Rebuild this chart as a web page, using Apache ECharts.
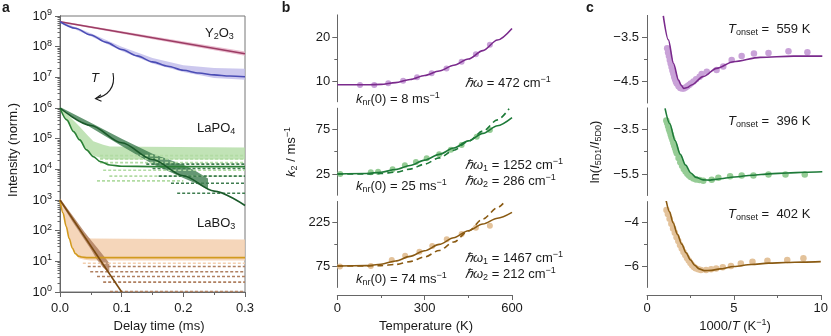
<!DOCTYPE html>
<html><head><meta charset="utf-8">
<script src="https://cdn.jsdelivr.net/npm/echarts@6/dist/echarts.min.js"></script>
<style>html,body{margin:0;padding:0;background:#fff}#c{width:831px;height:336px}</style>
</head><body><div id="c"></div>
<script>
// ---------------- Panel a: decay curves (delay time ms, normalized intensity) ----------------
const y2o3RtFit  = [[0,6.5e8],[0.15,1.95e8],[0.3,5.9e7]];
const y2o3RtBand = [[0,6.1e8,6.9e8],[0.15,1.75e8,2.2e8],[0.3,5.1e7,6.9e7]];
const y2o3HtFit  = [[0,6.5e8],[0.025,4.0e8],[0.05,2.4e8],[0.075,1.38e8],[0.1,8.1e7],[0.125,5.0e7],[0.15,3.2e7],[0.175,2.3e7],[0.2,1.7e7],[0.225,1.38e7],[0.25,1.2e7],[0.275,1.1e7],[0.3,1.05e7]];
const y2o3HtBand = [[0,6.0e8,6.9e8],[0.05,2.2e8,2.75e8],[0.1,7.2e7,1.0e8],[0.15,2.8e7,4.3e7],[0.2,1.5e7,2.5e7],[0.25,9.5e6,2.0e7],[0.3,8.3e6,1.9e7]];

const lapoRtFit  = [[0,1.0e6],[0.05,2.7e5],[0.1,7.4e4],[0.15,2.1e4],[0.2,6.2e3],[0.25,1.95e3],[0.3,6.6e2]];
const lapoRtBand = [[0,9.3e5,1.07e6],[0.05,2.3e5,3.3e5],[0.1,5.8e4,1.0e5],[0.15,1.5e4,3.2e4],[0.2,5.2e3,1.4e4],[0.22,3.5e3,8.9e3],[0.24,2.2e3,5.0e3]];
const lapoHtFit  = [[0,1.0e6],[0.011,4.1e5],[0.022,1.7e5],[0.032,9.1e4],[0.043,4.3e4],[0.054,2.6e4],[0.065,1.8e4],[0.081,1.38e4],[0.1,1.26e4],[0.15,1.23e4],[0.3,1.23e4]];
const lapoHtBand = [[0,9.3e5,1.07e6],[0.016,2.5e5,5.2e5],[0.032,8.9e4,2.45e5],[0.045,4.0e4,1.26e5],[0.054,2.8e4,8.3e4],[0.07,2.2e4,6.3e4],[0.081,2.1e4,5.6e4],[0.3,2.1e4,5.2e4]];
const lapoHtLevels = [[0.065,0.3,2.8e4],[0.065,0.3,2.2e4],[0.065,0.3,1.66e4],[0.07,0.3,9.3e3],[0.08,0.3,6.0e3],[0.06,0.2,4.2e3]];
const lapoRtLevels = [[0.14,0.3,1.48e4],[0.15,0.3,1.07e4],[0.16,0.3,6.0e3],[0.18,0.3,3.5e3],[0.19,0.3,1.66e3]];

const laboRtFit  = [[0,1000],[0.1,1]];
const laboRtBand = [[0,890,1120],[0.02,200,316],[0.04,50,89],[0.05,25,50],[0.06,11.2,28],[0.07,6.3,15.8],[0.08,4.0,8.9]];
const laboHtFit  = [[0,1000],[0.005,372],[0.01,138],[0.015,55],[0.02,27],[0.025,17.8],[0.03,14.8],[0.035,13.8],[0.045,13.2],[0.3,13.2]];
const laboHtBand = [[0,890,1120],[0.01,141,500],[0.02,28,224],[0.03,12.6,100],[0.04,11.2,63],[0.05,10.7,56],[0.3,10.7,52]];
const laboHtLevels = [[0.037,0.3,8.7]];
const laboRtLevels = [[0.045,0.3,6.8],[0.049,0.3,4.6],[0.06,0.3,3.2],[0.07,0.3,2.1],[0.081,0.3,1.04]];

const aYTicks = [1,1e1,1e2,1e3,1e4,1e5,1e6,1e7,1e8,1e9];
const aYMinor = [2,3,4,5,6,7,8,9];

// ---------------- Panel b: k2 vs temperature ----------------
const bTempY = [78,127,175,226,274,324,375,427,476,524];
const bK2Y   = [9.26,9.26,9.64,10.2,11.0,11.9,13.0,14.5,16.2,18.3];
const bFitY  = [[0,9.3],[50,9.3],[100,9.3],[150,9.4],[200,9.8],[250,10.5],[300,11.4],[350,12.4],[400,13.7],[450,15.1],[500,17.0],[550,19.4],[600,22.0]];
const bTempP = [10,115,140,190,232,270,307,350,390,427,479,524];
const bK2P   = [25,27,27.5,30.3,34.7,38.5,42.6,47,52,57.4,66.7,74.2];
const bFitP  = [[0,25],[100,25.5],[150,27],[200,30],[250,34.5],[300,40.5],[350,47],[400,54],[450,62],[500,70.5],[550,79],[600,88]];
const bFitP2 = [[0,25],[100,25],[150,25.5],[200,27],[250,30.5],[300,36],[350,43],[400,51.5],[450,61.5],[500,73],[550,85.5],[590,98]];
const bTempB = [9,115,187,233,282,326,376,427,476,524];
const bK2B   = [73,75,95.6,110.4,124,143.7,166.6,184.9,206.5,213.3];
const bFitB  = [[0,75],[100,76],[150,81],[200,92],[250,108],[300,127],[350,149],[400,172],[450,196],[500,219],[550,239],[600,259]];
const bFitB2 = [[0,75],[100,75],[150,76],[200,80],[250,90],[300,106],[350,128],[400,157],[450,195],[500,236],[550,275],[570,290]];

// ---------------- Panel c: ln(I5D1/I5D0) vs 1000/T ----------------
const cPtsY = [[1.15,-3.75],[1.2,-3.85],[1.25,-3.93],[1.3,-4.02],[1.35,-4.1],[1.4,-4.18],[1.45,-4.26],[1.5,-4.33],[1.55,-4.4],[1.6,-4.46],[1.65,-4.52],[1.7,-4.56],[1.8,-4.62],[1.9,-4.66],[2.0,-4.67],[2.1,-4.67],[2.2,-4.65],[2.3,-4.62],[2.4,-4.59],[2.5,-4.56],[2.65,-4.51],[2.8,-4.46],[3.0,-4.4],[3.12,-4.34],[3.41,-4.29],[3.97,-4.25],[4.35,-4.17],[4.83,-4.02],[5.4,-3.93],[6.1,-3.87],[6.93,-3.86],[8.07,-3.82],[9.15,-3.84]];
const cFitY = [[0.93,-3.01],[1.22,-3.56],[1.51,-4.10],[1.8,-4.48],[1.95,-4.6],[2.1,-4.67],[2.3,-4.65],[2.54,-4.59],[3.2,-4.40],[3.97,-4.21],[4.93,-4.06],[6.45,-3.96],[8.35,-3.93],[10,-3.93]];
const cPtsP = [[1.1,-3.1],[1.15,-3.22],[1.2,-3.35],[1.25,-3.48],[1.3,-3.6],[1.35,-3.73],[1.4,-3.85],[1.45,-3.97],[1.5,-4.1],[1.55,-4.22],[1.6,-4.34],[1.65,-4.46],[1.7,-4.57],[1.8,-4.78],[1.9,-4.97],[2.0,-5.13],[2.1,-5.27],[2.2,-5.39],[2.3,-5.49],[2.4,-5.57],[2.5,-5.63],[2.65,-5.7],[2.8,-5.74],[3.0,-5.77],[3.21,-5.8],[3.69,-5.76],[4.07,-5.66],[4.74,-5.6],[5.4,-5.57],[6.07,-5.57],[6.93,-5.52],[7.9,-5.52],[9.0,-5.52]];
const cFitP = [[1.03,-2.56],[1.3,-3.25],[1.6,-4.0],[1.9,-4.62],[2.2,-5.1],[2.5,-5.45],[2.8,-5.65],[3.2,-5.76],[3.6,-5.77],[4.0,-5.73],[5.0,-5.63],[6.0,-5.55],[7.0,-5.49],[8.0,-5.45],[9.0,-5.42],[10,-5.40]];
const cPtsB = [[1.12,-3.44],[1.2,-3.62],[1.3,-3.84],[1.4,-4.06],[1.5,-4.28],[1.6,-4.48],[1.7,-4.68],[1.8,-4.86],[1.9,-5.04],[2.0,-5.2],[2.1,-5.36],[2.2,-5.5],[2.3,-5.63],[2.4,-5.75],[2.5,-5.86],[2.6,-5.96],[2.7,-6.04],[2.8,-6.1],[2.95,-6.15],[3.1,-6.18],[3.4,-6.18],[3.69,-6.15],[3.98,-6.11],[4.36,-6.06],[4.83,-6.0],[5.4,-5.88],[6.07,-5.8],[6.93,-5.76],[8.07,-5.73],[9.0,-5.65]];
const cFitB = [[1.1,-3.0],[1.3,-3.52],[1.5,-4.02],[1.75,-4.55],[2.0,-5.0],[2.25,-5.4],[2.5,-5.72],[2.75,-5.97],[3.0,-6.13],[3.3,-6.21],[3.7,-6.2],[4.2,-6.13],[5.0,-6.02],[6.0,-5.93],[7.0,-5.87],[8.0,-5.84],[9.0,-5.82],[10,-5.80]];

// tick values of the stacked sub-axes
const bMajor = [[10,20],[25,75],[75,225]];
const bMinor = [[15],[50],[150]];
const cMajor = [[-3.5,-4.5],[-3.5,-5.5],[-4,-6]];
const cMinor = [[-4],[-4.5],[-5]];

// ---------------- styling / layout ----------------
const FF = '"Liberation Sans", Arial, Helvetica, sans-serif';
const AX = '#666';
const TXT = '#1a1a1a';
const C = {
  maroon:'#9c3c64', pink:'#e6b3c8', blue:'#4b4db5', lav:'#bfbaea',
  dkg:'#1a5a2a', dkgS:'#3f7d50', ltg:'#2a8035', ltgS:'#b2dca4',
  brn:'#7b4a10', brnS:'#b08060', gold:'#d29a1e', peach:'#f3cfae',
  purple:'#7a2a8c', purpleP:'#c9a2d8', green:'#1d7a38', greenP:'#95cc95', brown:'#8a5a12', brownP:'#e3c29a'
};
const rows = [[15.1,86.6],[108.3,86.7],[201.6,85.6]];
const bRange = [[5.5,25],[1.5,98.5],[2,296]];
const cRows = [[15.45,87.4],[108.1,87.2],[201.8,85.4]];
const cRange = [[-5,-3],[-6.45,-2.55],[-6.97,-3.06]];

const minus = v => String(v).replace('-', '\u2212');
const lbl = {fontSize:13, color:TXT, fontFamily:FF};

const grid = [{left:60, top:16, width:185, height:276, show:true, borderColor:'#777', borderWidth:1, backgroundColor:'transparent', containLabel:false}];
rows.forEach(r => grid.push({left:337.3, top:r[0], width:174.7, height:r[1], containLabel:false}));
cRows.forEach(r => grid.push({left:647, top:r[0], width:175.3, height:r[1], containLabel:false}));

const xAxis = [{
  type:'value', gridIndex:0, min:0, max:0.3, interval:0.1, position:'bottom',
  axisLine:{show:true, lineStyle:{color:AX, width:1}},
  axisTick:{show:true, length:5, lineStyle:{color:AX}},
  minorTick:{show:true, splitNumber:2, length:3, lineStyle:{color:AX}},
  axisLabel:Object.assign({margin:10, formatter:v => v.toFixed(1)}, lbl),
  splitLine:{show:false}, minorSplitLine:{show:false}
}];
function xSub(gi, max, interval, shown) {
  if (!shown) return {type:'value', gridIndex:gi, min:0, max, show:false, splitLine:{show:false}};
  return {type:'value', gridIndex:gi, min:0, max, interval, offset:7.8, position:'bottom',
    axisLine:{show:true, lineStyle:{color:AX, width:1}},
    axisTick:{show:true, length:5, lineStyle:{color:AX}},
    minorTick:{show:true, splitNumber:2, length:3, lineStyle:{color:AX}},
    axisLabel:Object.assign({margin:7}, lbl), splitLine:{show:false}, minorSplitLine:{show:false}};
}
for (let i = 0; i < 3; i++) xAxis.push(xSub(1+i, 600, 300, i === 2));
for (let i = 0; i < 3; i++) xAxis.push(xSub(4+i, 10, 5, i === 2));

const aMinorVals = [];
for (let k = 0; k < 9; k++) aYMinor.forEach(m => aMinorVals.push(m * Math.pow(10, k)));
const yAxis = [{
  type:'log', logBase:10, gridIndex:0, min:1, max:1e9, position:'left',
  axisLine:{show:true, lineStyle:{color:AX, width:1}},
  axisTick:{show:true, length:5, lineStyle:{color:AX}, customValues:aYTicks},
  axisLabel:{customValues:aYTicks, margin:8, color:TXT, fontFamily:FF, fontSize:13,
    formatter:v => '{b|10}{s|' + Math.round(Math.log10(v)) + '}',
    rich:{b:{fontSize:13, fontFamily:FF, color:TXT, lineHeight:16, verticalAlign:'middle'},
          s:{fontSize:9, fontFamily:FF, color:TXT, lineHeight:9, verticalAlign:'top'}}},
  splitLine:{show:false}
},{
  type:'log', logBase:10, gridIndex:0, min:1, max:1e9, position:'left', offset:0,
  axisLine:{show:true, lineStyle:{color:AX, width:1}},
  axisTick:{show:true, length:2.5, lineStyle:{color:AX}, customValues:aMinorVals},
  axisLabel:{show:false}, splitLine:{show:false}
}];
function yPair(gi, range, major, minor, margin) {
  return [{
    type:'value', gridIndex:gi, min:range[0], max:range[1], position:'left',
    axisLine:{show:true, lineStyle:{color:AX, width:1}},
    axisTick:{show:true, length:5, lineStyle:{color:AX}, customValues:major},
    axisLabel:Object.assign({customValues:major, margin, formatter:minus}, lbl),
    splitLine:{show:false}
  },{
    type:'value', gridIndex:gi, min:range[0], max:range[1], position:'left', offset:0,
    axisLine:{show:true, lineStyle:{color:AX, width:1}},
    axisTick:{show:true, length:3, lineStyle:{color:AX}, customValues:minor},
    axisLabel:{show:false}, splitLine:{show:false}
  }];
}
for (let i = 0; i < 3; i++) yAxis.push(...yPair(1+i, bRange[i], bMajor[i], bMinor[i], 7));
for (let i = 0; i < 3; i++) yAxis.push(...yPair(4+i, cRange[i], cMajor[i], cMinor[i], 8));
const yIdx = gi => 2 + (gi-1)*2;

// ---------------- series builders ----------------
function band(pts, color, opacity, z) {
  return {type:'custom', xAxisIndex:0, yAxisIndex:0, silent:true, z, clip:true,
    data:[[pts[0][0], pts[0][1]]],
    renderItem(params, api) {
      const up = pts.map(p => api.coord([p[0], p[2]]));
      const lo = pts.map(p => api.coord([p[0], p[1]])).reverse();
      return {type:'polygon', shape:{points:up.concat(lo)}, style:{fill:color, opacity}};
    }};
}
function fit(xi, yi, data, color, opts) {
  opts = opts || {};
  return {type:'line', xAxisIndex:xi, yAxisIndex:yi, data, symbol:'none', silent:true,
    smooth:opts.smooth === undefined ? 0.3 : opts.smooth, smoothMonotone:'x', clip:true, z:opts.z || 5,
    lineStyle:{color, width:opts.w || 1.6, type:opts.type || 'solid'}};
}
function levels(list, color, z) {
  return list.map(l => ({type:'line', xAxisIndex:0, yAxisIndex:0, data:[[l[0], l[2]],[l[1], l[2]]],
    symbol:'none', silent:true, z, lineStyle:{color, width:1.6, type:[3,2]}}));
}
function pts(xi, yi, data, color, size) {
  return {type:'scatter', xAxisIndex:xi, yAxisIndex:yi, data, symbolSize:size || 6, silent:true, z:3,
    itemStyle:{color, opacity:1}};
}
const zip = (a, b) => a.map((v, i) => [v, b[i]]);

const series = [
  band(y2o3RtBand, C.pink, 0.85, 1),
  band(y2o3HtBand, C.lav, 0.8, 1),
  band(lapoHtBand, C.ltgS, 0.8, 1),
  ...levels(lapoHtLevels, C.ltgS, 2),
  band(lapoRtBand, C.dkgS, 0.8, 2),
  ...levels(lapoRtLevels, C.dkgS, 2),
  band(laboHtBand, C.peach, 0.85, 1),
  ...levels(laboHtLevels, C.peach, 2),
  band(laboRtBand, C.brnS, 0.85, 2),
  ...levels(laboRtLevels, C.brnS, 2),
  fit(0, 0, y2o3RtFit, C.maroon, {smooth:false}),
  fit(0, 0, y2o3HtFit, C.blue),
  fit(0, 0, lapoHtFit, C.ltg),
  fit(0, 0, lapoRtFit, C.dkg),
  fit(0, 0, laboHtFit, C.gold),
  fit(0, 0, laboRtFit, C.brn, {smooth:false}),
  pts(1, yIdx(1), zip(bTempY, bK2Y), C.purpleP),
  fit(1, yIdx(1), bFitY, C.purple),
  pts(2, yIdx(2), zip(bTempP, bK2P), C.greenP),
  fit(2, yIdx(2), bFitP, C.green),
  fit(2, yIdx(2), bFitP2, C.green, {type:[6,4]}),
  pts(3, yIdx(3), zip(bTempB, bK2B), C.brownP),
  fit(3, yIdx(3), bFitB, C.brown),
  fit(3, yIdx(3), bFitB2, C.brown, {type:[6,4]}),
  pts(4, yIdx(4), cPtsY, C.purpleP, 6.5),
  fit(4, yIdx(4), cFitY, C.purple),
  pts(5, yIdx(5), cPtsP, C.greenP, 6.5),
  fit(5, yIdx(5), cFitP, C.green),
  pts(6, yIdx(6), cPtsB, C.brownP, 6.5),
  fit(6, yIdx(6), cFitB, C.brown)
];

// ---------------- text annotations ----------------
const RT = {
  i:{fontStyle:'italic', fontSize:13, fontFamily:FF, fill:TXT, lineHeight:16, verticalAlign:'middle'},
  sb:{fontSize:9, fontFamily:FF, fill:TXT, lineHeight:9, verticalAlign:'bottom'},
  sp:{fontSize:9, fontFamily:FF, fill:TXT, lineHeight:9, verticalAlign:'top'}
};
function txt(x, y, text, align, rot, extra) {
  return {type:'text', x, y, rotation:rot || 0, silent:true, z:100,
    style:Object.assign({text, rich:RT, fontSize:13, fontFamily:FF, fill:TXT, lineHeight:16,
      align:align || 'left', verticalAlign:'middle'}, extra || {})};
}
const bold = {fontWeight:'bold', fontSize:14};
const graphic = [
  txt(6, 8, 'a', 'center', 0, bold),
  txt(286, 8, 'b', 'center', 0, bold),
  txt(590, 8, 'c', 'center', 0, bold),
  txt(205, 33, 'Y{sb|2}O{sb|3}'),
  txt(197, 128, 'LaPO{sb|4}'),
  txt(197, 223, 'LaBO{sb|3}'),
  txt(95, 78, '{i|T}', 'center'),
  {type:'bezierCurve', silent:true, z:100, shape:{x1:113, y1:73, cpx1:116, cpy1:88, cpx2:107, cpy2:96, x2:96, y2:98.5},
    style:{stroke:TXT, lineWidth:1.1, fill:null}},
  {type:'polyline', silent:true, z:100, shape:{points:[[101,94.8],[95.5,98.7],[101.5,101.2]]},
    style:{stroke:TXT, lineWidth:1.1, fill:null}},
  txt(159, 326, 'Delay time (ms)', 'center'),
  txt(13, 150, 'Intensity (norm.)', 'center', Math.PI/2),
  txt(465, 83, '{i|\u210F\u03C9} = 472 cm{sp|\u22121}'),
  txt(356, 99, '{i|k}{sb|nr}(0) = 8 ms{sp|\u22121}'),
  txt(465, 165, '{i|\u210F\u03C9}{sb|1} = 1252 cm{sp|\u22121}'),
  txt(465, 181, '{i|\u210F\u03C9}{sb|2} = 286 cm{sp|\u22121}'),
  txt(356, 186, '{i|k}{sb|nr}(0) = 25 ms{sp|\u22121}'),
  txt(465, 258, '{i|\u210F\u03C9}{sb|1} = 1467 cm{sp|\u22121}'),
  txt(465, 274, '{i|\u210F\u03C9}{sb|2} = 212 cm{sp|\u22121}'),
  txt(356, 279, '{i|k}{sb|nr}(0) = 74 ms{sp|\u22121}'),
  txt(426, 326, 'Temperature (K)', 'center'),
  txt(291, 152, '{i|k}{sb|2} / ms{sp|\u22121}', 'center', Math.PI/2),
  txt(728, 29, '{i|T}{sb|onset} =  559 K'),
  txt(728, 121, '{i|T}{sb|onset} =  396 K'),
  txt(728, 214, '{i|T}{sb|onset} =  402 K'),
  txt(735, 326, '1000/{i|T} (K{sp|\u22121})', 'center'),
  txt(595, 152, 'ln({i|I}{sb|5D1}/{i|I}{sb|5D0})', 'center', Math.PI/2)
];

const chart = echarts.init(document.getElementById('c'), null, {renderer:'canvas'});
chart.setOption({
  animation:false, backgroundColor:'#fff',
  textStyle:{fontFamily:FF},
  grid, xAxis, yAxis, series, graphic
});
</script></body></html>
